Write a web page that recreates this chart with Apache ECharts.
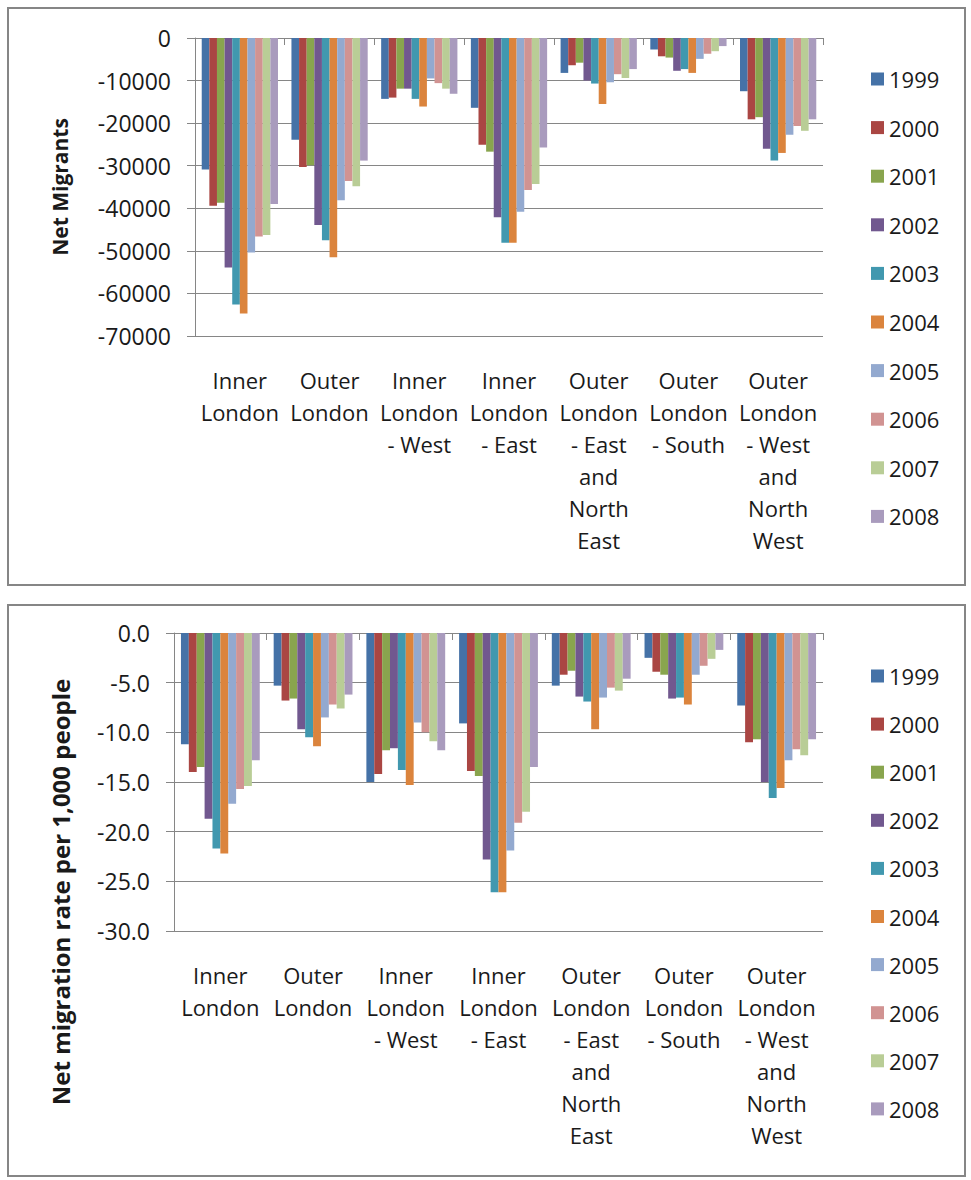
<!DOCTYPE html>
<html>
<head>
<meta charset="utf-8">
<title>London net migration</title>
<script src="https://cdn.jsdelivr.net/npm/echarts@6/dist/echarts.min.js"></script>
<style>
  html, body { margin: 0; padding: 0; background: #fff; }
  #chart { width: 971px; height: 1180px; }
</style>
</head>
<body>
<div id="chart"></div>
<script>
// categories (x axis, already wrapped as in the original)
const categories = [
  "Inner\nLondon",
  "Outer\nLondon",
  "Inner\nLondon\n- West",
  "Inner\nLondon\n- East",
  "Outer\nLondon\n- East\nand\nNorth\nEast",
  "Outer\nLondon\n- South",
  "Outer\nLondon\n- West\nand\nNorth\nWest",
];
const years = ["1999", "2000", "2001", "2002", "2003", "2004", "2005", "2006", "2007", "2008"];
const yearColors = ["#4572A7", "#AA4643", "#89A54E", "#71588F", "#4198AF", "#DB843D", "#93A9CF", "#D19392", "#B9CD96", "#A99BBD"];

// net migrants, one array per area, values by year 1999..2008
const migInner = [-30900, -39400, -38700, -53900, -62600, -64700, -50400, -46600, -46300, -39000];
const migOuter = [-23900, -30300, -29900, -43900, -47500, -51500, -38100, -33600, -34800, -28800];
const migInnerWest = [-14300, -14000, -11900, -11900, -14300, -16100, -9500, -10600, -11900, -13100];
const migInnerEast = [-16400, -25100, -26700, -42100, -48100, -48100, -40800, -35700, -34300, -25700];
const migOuterEastNE = [-8200, -6400, -5800, -10000, -10700, -15500, -10400, -8500, -9400, -7300];
const migOuterSouth = [-2700, -4300, -4600, -7700, -7300, -8200, -4900, -3700, -3100, -1900];
const migOuterWestNW = [-12500, -19100, -18600, -26000, -28800, -27000, -22700, -20700, -21800, -19100];

// net migration rate per 1,000 people, by year 1999..2008
const rateInner = [-11.2, -14.0, -13.5, -18.7, -21.7, -22.2, -17.2, -15.7, -15.4, -12.8];
const rateOuter = [-5.3, -6.8, -6.6, -9.7, -10.5, -11.4, -8.5, -7.2, -7.6, -6.2];
const rateInnerWest = [-15.0, -14.2, -11.8, -11.6, -13.8, -15.3, -9.0, -10.0, -10.9, -11.8];
const rateInnerEast = [-9.1, -13.9, -14.4, -22.8, -26.1, -26.1, -21.9, -19.1, -18.0, -13.5];
const rateOuterEastNE = [-5.3, -4.2, -3.8, -6.4, -6.9, -9.7, -6.5, -5.5, -5.8, -4.6];
const rateOuterSouth = [-2.5, -3.9, -4.2, -6.6, -6.5, -7.2, -4.2, -3.3, -2.6, -1.7];
const rateOuterWestNW = [-7.3, -11.0, -10.7, -15.0, -16.6, -15.6, -12.8, -11.7, -12.3, -10.7];

const migrants = [migInner, migOuter, migInnerWest, migInnerEast, migOuterEastNE, migOuterSouth, migOuterWestNW];
const rates = [rateInner, rateOuter, rateInnerWest, rateInnerEast, rateOuterEastNE, rateOuterSouth, rateOuterWestNW];

const FONT = "Open Sans";
const GRAY = "#868686";
const txt = "#1a1a1a";

// x axes: one at the bottom for labels, one at the top (zero line) with ticks
function xAxes(gridIndex) {
  return [
    {
      gridIndex: gridIndex,
      type: "category",
      data: categories,
      position: "bottom",
      axisLine: { show: false, onZero: false },
      axisTick: { show: false },
      axisLabel: {
        interval: 0,
        margin: 28,
        color: txt,
        fontFamily: FONT,
        fontSize: 22,
        lineHeight: 32,
        verticalAlign: "top",
      },
    },
    {
      gridIndex: gridIndex,
      type: "category",
      data: categories,
      position: "top",
      axisLine: { show: true, onZero: false, lineStyle: { color: GRAY, width: 1 } },
      axisTick: { show: true, inside: true, length: 7, lineStyle: { color: GRAY } },
      axisLabel: { show: false },
    },
  ];
}

function yAxis(gridIndex, min, interval, fmt) {
  return {
    gridIndex: gridIndex,
    type: "value",
    min: min,
    max: 0,
    interval: interval,
    axisLine: { show: true, lineStyle: { color: GRAY, width: 1 } },
    axisTick: { show: true, length: 8, lineStyle: { color: GRAY } },
    splitLine: { show: true, lineStyle: { color: GRAY, width: 1 } },
    axisLabel: { margin: 24, color: txt, fontFamily: FONT, fontSize: 23, formatter: fmt },
  };
}

function makeSeries(table, xIndex, yIndex) {
  return years.map((y, i) => ({
    name: y,
    type: "bar",
    xAxisIndex: xIndex,
    yAxisIndex: yIndex,
    barGap: "0%",
    barCategoryGap: "15%",
    itemStyle: { color: yearColors[i] },
    data: table.map((row) => row[i]),
  }));
}

function legend(top, gap) {
  return {
    orient: "vertical",
    left: 866,
    top: top,
    icon: "rect",
    itemWidth: 13,
    itemHeight: 13,
    itemGap: gap,
    data: years,
    textStyle: { color: txt, fontFamily: FONT, fontSize: 22, lineHeight: 24 },
  };
}

const chart = echarts.init(document.getElementById("chart"), null, { renderer: "svg" });
chart.setOption({
  animation: false,
  color: yearColors,
  grid: [
    { left: 195, top: 38, width: 628, height: 298 },
    { left: 174, top: 633, width: 649, height: 298 },
  ],
  xAxis: [...xAxes(0), ...xAxes(1)],
  yAxis: [
    yAxis(0, -70000, 10000, (v) => String(v)),
    yAxis(1, -30, 5, (v) => v.toFixed(1)),
  ],
  legend: [legend(62, 24.6), legend(659, 24.1)],
  graphic: [
    { type: "rect", shape: { x: 8, y: 8, width: 957, height: 577 }, style: { fill: "none", stroke: GRAY, lineWidth: 2 }, silent: true },
    { type: "rect", shape: { x: 8, y: 605, width: 957, height: 571 }, style: { fill: "none", stroke: GRAY, lineWidth: 2 }, silent: true },
    {
      type: "text", x: 60, y: 187, rotation: Math.PI / 2,
      style: { text: "Net Migrants", fill: txt, font: "bold 21px 'Open Sans'", align: "center", verticalAlign: "middle" },
    },
    {
      type: "text", x: 60, y: 892, rotation: Math.PI / 2,
      style: { text: "Net migration rate per 1,000 people", fill: txt, font: "bold 24px 'Open Sans'", align: "center", verticalAlign: "middle" },
    },
  ],
  series: [...makeSeries(migrants, 0, 0), ...makeSeries(rates, 2, 1)],
});
</script>
</body>
</html>
